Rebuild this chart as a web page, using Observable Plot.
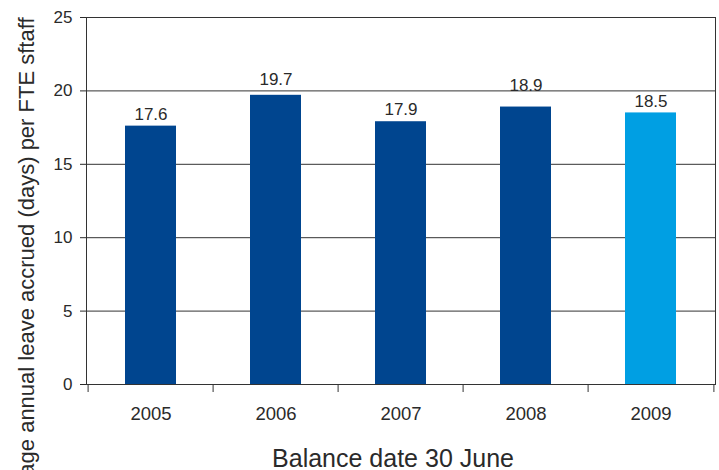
<!DOCTYPE html>
<html><head><meta charset="utf-8">
<script src="https://cdn.jsdelivr.net/npm/d3@7"></script>
<script src="https://cdn.jsdelivr.net/npm/@observablehq/plot@0.6"></script>
<style>body{margin:0;background:#fff}</style>
</head><body><div id="chart"></div>
<script>
const years = ["2005", "2006", "2007", "2008", "2009"];
const values = [17.6, 19.7, 17.9, 18.9, 18.5];
const highlight = [false, false, false, false, true];
const yTicks = [0, 5, 10, 15, 20, 25];
const yTitle = "Average annual leave accrued (days) per FTE sftaff";
const xTitle = "Balance date 30 June";

const data = years.map((year, i) => ({year, value: values[i], current: highlight[i]}));
const W = 719, H = 470, mL = 86, mR = 4, mT = 17, mB = 86;
const step = (W - mL - mR) / years.length;
const font = "'Liberation Sans', Arial, sans-serif";
const labelGap = [6, 10, 7, 16, 6];

const chart = Plot.plot({
  width: W, height: H,
  marginLeft: mL, marginRight: mR, marginTop: mT, marginBottom: mB,
  style: {fontFamily: font, color: "#2a2a2a", background: "#fff", overflow: "visible"},
  x: {domain: years, paddingInner: 0.59, paddingOuter: 0.295},
  y: {domain: [0, 25]},
  marks: [
    Plot.gridY(yTicks.slice(1, -1), {stroke: "#333", strokeOpacity: 1}),
    Plot.barY(data, {x: "year", y: "value", fill: d => d.current ? "#009fe3" : "#00458f"}),
    Plot.frame({stroke: "#333"}),
    Plot.axisY({ticks: yTicks, tickSize: 6, tickPadding: 8, fontSize: 17, label: null}),
    Plot.axisX({tickSize: 0, tickPadding: 22, fontSize: 18.5, label: null}),
    Plot.ruleX(years, {x: d => d, y1: 0, y2: 0, dx: -step / 2, insetBottom: -8, stroke: "#333"}),
    Plot.ruleX(years.slice(-1), {x: d => d, y1: 0, y2: 0, dx: step / 2, insetBottom: -8, stroke: "#333"}),
    ...data.map((d, i) => Plot.text([d], {
      x: "year", y: "value", text: v => v.value.toFixed(1),
      dy: -labelGap[i], lineAnchor: "bottom", fontSize: 17, fill: "#2a2a2a"
    })),
    Plot.text([yTitle], {frameAnchor: "top-left", rotate: -90, textAnchor: "end", lineAnchor: "bottom",
      dx: -53, fontSize: 22, fill: "#2a2a2a"}),
    Plot.text([xTitle], {frameAnchor: "bottom", lineAnchor: "bottom", dx: -8, dy: 82, fontSize: 25, fill: "#2a2a2a"})
  ]
});
document.getElementById("chart").appendChild(chart);
</script>
</body></html>
